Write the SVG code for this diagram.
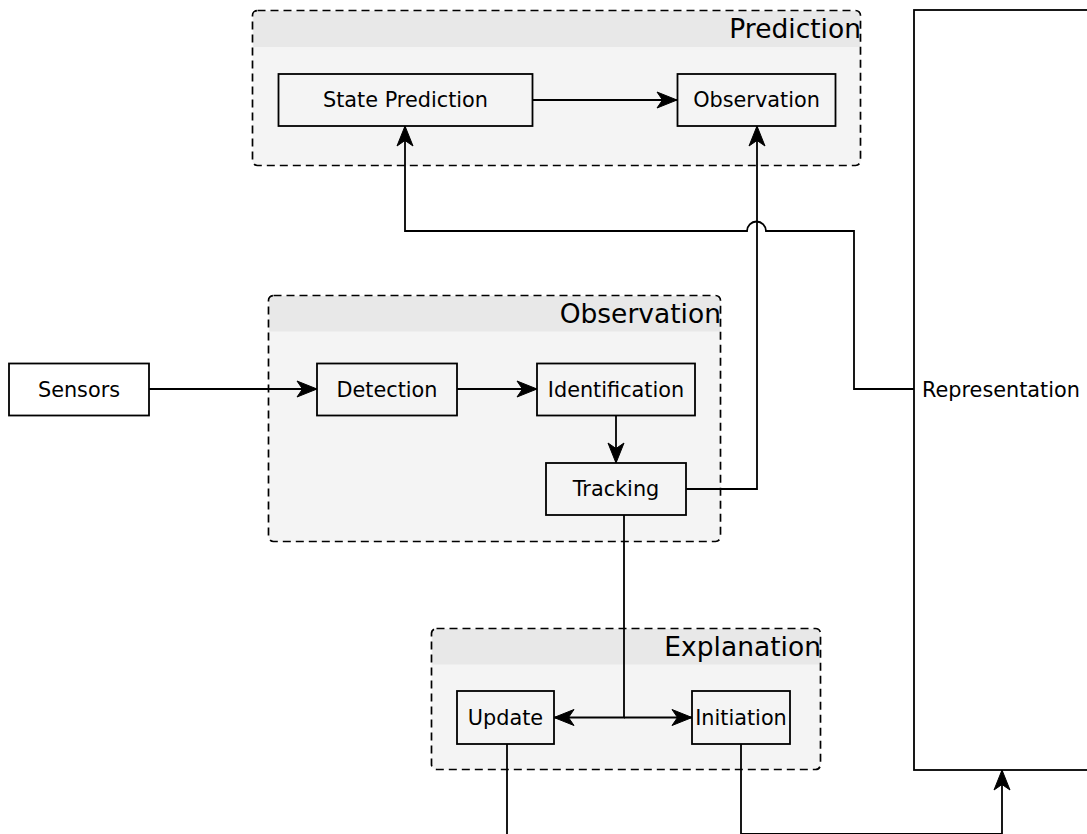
<svg xmlns="http://www.w3.org/2000/svg" width="1087" height="834" viewBox="0 0 1087 834">
  <style>
    .grp { fill: #f4f4f4; stroke: none; }
    .grp-border { fill: none; stroke: #000; stroke-width: 1.7; stroke-dasharray: 8 5; }
    .hdr { fill: #e8e8e8; stroke: none; }
    .title { font-family: "DejaVu Sans", sans-serif; font-size: 26.5px; fill: #000; text-anchor: end; }
    .box { fill: #f4f4f4; stroke: #000; stroke-width: 1.8; }
    .box.white { fill: #fff; }
    .lbl { font-family: "DejaVu Sans", sans-serif; font-size: 20.8px; fill: #000; text-anchor: middle; dominant-baseline: central; }
    .edge { fill: none; stroke: #000; stroke-width: 1.8; }
  </style>
  <defs>
    <marker id="arrow" markerUnits="userSpaceOnUse" markerWidth="22" markerHeight="18" refX="20" refY="8" orient="auto" overflow="visible">
      <path d="M0,0 L20,8 L0,16 L5.5,8 Z" fill="#000" stroke="#000" stroke-width="1"/>
    </marker>
  </defs>

  <rect width="1087" height="834" fill="#fff"/>

  <!-- swimlane groups: body, header band, dashed border, title -->
  <g id="group-prediction">
    <rect class="grp" x="252.5" y="10.5" width="608" height="155" rx="5"/>
    <path class="hdr" d="M253.3,47 V16 a5,5 0 0 1 5,-5 H855 a5,5 0 0 1 5,5 V47 Z"/>
    <rect class="grp-border" x="252.5" y="10.5" width="608" height="155" rx="5"/>
    <text class="title" x="861" y="38">Prediction</text>
  </g>
  <g id="group-observation">
    <rect class="grp" x="268.5" y="295.5" width="452" height="246" rx="5"/>
    <path class="hdr" d="M269.3,331.5 V301 a5,5 0 0 1 5,-5 H715 a5,5 0 0 1 5,5 V331.5 Z"/>
    <rect class="grp-border" x="268.5" y="295.5" width="452" height="246" rx="5"/>
    <text class="title" x="721" y="323">Observation</text>
  </g>
  <g id="group-explanation">
    <rect class="grp" x="431.5" y="628.5" width="389" height="141" rx="5"/>
    <path class="hdr" d="M432.3,664.5 V634 a5,5 0 0 1 5,-5 H815 a5,5 0 0 1 5,5 V664.5 Z"/>
    <rect class="grp-border" x="431.5" y="628.5" width="389" height="141" rx="5"/>
    <text class="title" x="821" y="656">Explanation</text>
  </g>

  <!-- connectors -->
  <g id="connectors">
    <path class="edge" d="M532,100 H677" marker-end="url(#arrow)"/>
    <path class="edge" d="M914,389 H854 V231 H766 A9.5,9.5 0 0 0 747,231 H405 V126" marker-end="url(#arrow)"/>
    <path class="edge" d="M686,489 H757 V126" marker-end="url(#arrow)"/>
    <path class="edge" d="M149,389 H317" marker-end="url(#arrow)"/>
    <path class="edge" d="M457,389 H537" marker-end="url(#arrow)"/>
    <path class="edge" d="M616,415 V463" marker-end="url(#arrow)"/>
    <path class="edge" d="M624,515 V717.5 H554" marker-end="url(#arrow)"/>
    <path class="edge" d="M624,717.5 H692" marker-end="url(#arrow)"/>
    <path class="edge" d="M507,744 V840"/>
    <path class="edge" d="M741,744 V834 H1002 V770" marker-end="url(#arrow)"/>
  </g>

  <!-- nodes -->
  <g id="node-state-prediction">
    <rect class="box" x="278.5" y="74" width="254" height="52"/>
    <text class="lbl" x="405.5" y="100">State Prediction</text>
  </g>
  <g id="node-observation-pred">
    <rect class="box" x="677.5" y="74" width="158" height="52"/>
    <text class="lbl" x="756.5" y="100">Observation</text>
  </g>
  <g id="node-sensors">
    <rect class="box white" x="9" y="363.5" width="140" height="52"/>
    <text class="lbl" x="79" y="389.5">Sensors</text>
  </g>
  <g id="node-detection">
    <rect class="box" x="317" y="363.5" width="140" height="52"/>
    <text class="lbl" x="387" y="389.5">Detection</text>
  </g>
  <g id="node-identification">
    <rect class="box" x="537" y="363.5" width="158" height="52"/>
    <text class="lbl" x="616" y="389.5">Identification</text>
  </g>
  <g id="node-tracking">
    <rect class="box" x="546" y="463" width="140" height="52"/>
    <text class="lbl" x="616" y="489">Tracking</text>
  </g>
  <g id="node-update">
    <rect class="box" x="457" y="691" width="97" height="53"/>
    <text class="lbl" x="505.5" y="717.5">Update</text>
  </g>
  <g id="node-initiation">
    <rect class="box" x="692" y="691" width="98" height="53"/>
    <text class="lbl" x="741" y="717.5">Initiation</text>
  </g>
  <g id="node-representation">
    <rect class="box white" x="914" y="10" width="190" height="760"/>
    <text class="lbl" x="922" y="389.5" style="text-anchor:start">Representation</text>
  </g>
</svg>
